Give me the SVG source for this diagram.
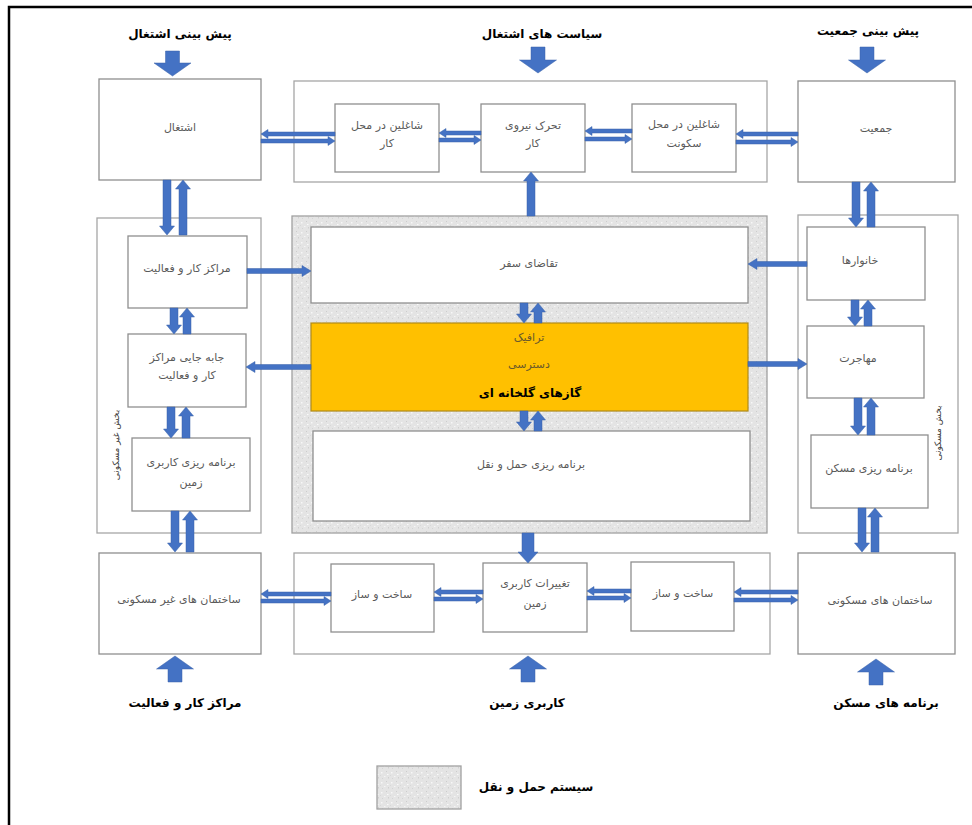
<svg xmlns="http://www.w3.org/2000/svg" width="972" height="825" viewBox="0 0 972 825">
<defs>
<pattern id="speck" width="10" height="10" patternUnits="userSpaceOnUse">
<rect width="10" height="10" fill="#e4e4e4"/>
<rect x="1" y="2" width="1.5" height="1.5" fill="#f7f7f7"/>
<rect x="6" y="1" width="1" height="1" fill="#cdcdcd"/>
<rect x="4" y="6" width="1.5" height="1" fill="#f5f5f5"/>
<rect x="8" y="7" width="1" height="1.5" fill="#d0d0d0"/>
<rect x="2" y="8" width="1" height="1" fill="#d4d4d4"/>
<rect x="7" y="4" width="1.5" height="1" fill="#fafafa"/>
<rect x="0" y="5" width="1" height="1" fill="#d8d8d8"/>
</pattern>
</defs>
<style>
.cont{fill:#fff;stroke:#a6a6a6;stroke-width:1.3}
.box{fill:#fff;stroke:#8f8f8f;stroke-width:1.3}
.trans{fill:url(#speck);stroke:#a0a0a0;stroke-width:1.3}
.orange{fill:#FFC000;stroke:#b08a1a;stroke-width:1.2}
.lbl{font-family:"DejaVu Sans","Noto Sans",sans-serif;font-size:11px;fill:#595959;text-anchor:middle}
.side{font-family:"DejaVu Sans","Noto Sans",sans-serif;font-size:9px;fill:#404040;text-anchor:middle}
.head{font-family:"DejaVu Sans","Noto Sans",sans-serif;font-size:12px;font-weight:bold;fill:#000;text-anchor:middle}
.otxt{font-family:"DejaVu Sans","Noto Sans",sans-serif;font-size:11px;fill:#6b5a2a;text-anchor:middle}
.arr{fill:#4472C4;stroke:#3a62a8;stroke-width:0.5}
</style>
<rect width="972" height="825" fill="#fff"/>
<path d="M9,825 V7 H972" fill="none" stroke="#000" stroke-width="2.5"/>

<g id="headers">
<text class="head" x="180" y="38">پیش بینی اشتغال</text>
<text class="head" x="542" y="38">سیاست های اشتغال</text>
<text class="head" x="868" y="35">پیش بینی جمعیت</text>
<text class="head" x="185" y="707">مراکز کار و فعالیت</text>
<text class="head" x="527" y="707">کاربری زمین</text>
<text class="head" x="886" y="707">برنامه های مسکن</text>
</g>

<g id="containers">
<rect class="cont" x="294" y="81" width="473" height="101"/>
<rect class="cont" x="97" y="218" width="164" height="315"/>
<rect class="cont" x="798" y="215" width="160" height="318"/>
<rect class="cont" x="294" y="553" width="476" height="101"/>
<rect class="trans" x="292" y="216" width="475" height="317"/>
<text class="side" transform="translate(119,445) rotate(-90)">بخش غیر مسکونی</text>
<text class="side" transform="translate(941,433) rotate(-90)">بخش مسکونی</text>
</g>

<g id="n-eshteghal"><rect class="box" x="99" y="79" width="162" height="101"/><text class="lbl" x="180" y="131">اشتغال</text></g>
<g id="n-shaghelin-kar"><rect class="box" x="335" y="104" width="104" height="68"/><text class="lbl" x="387" y="129">شاغلین در محل</text><text class="lbl" x="387" y="147">کار</text></g>
<g id="n-tahrok"><rect class="box" x="481" y="104" width="104" height="68"/><text class="lbl" x="533" y="129">تحرک نیروی</text><text class="lbl" x="533" y="147">کار</text></g>
<g id="n-shaghelin-sokunat"><rect class="box" x="632" y="104" width="104" height="68"/><text class="lbl" x="684" y="128">شاغلین در محل</text><text class="lbl" x="684" y="147">سکونت</text></g>
<g id="n-jamiat"><rect class="box" x="798" y="81" width="157" height="101"/><text class="lbl" x="876" y="132">جمعیت</text></g>

<g id="n-marakez"><rect class="box" x="128" y="236" width="119" height="72"/><text class="lbl" x="187" y="272">مراکز کار و فعالیت</text></g>
<g id="n-jabejaei"><rect class="box" x="128" y="334" width="118" height="73"/><text class="lbl" x="187" y="361">جابه جایی مراکز</text><text class="lbl" x="187" y="379">کار و فعالیت</text></g>
<g id="n-barname-karbari"><rect class="box" x="132" y="438" width="118" height="73"/><text class="lbl" x="191" y="466">برنامه ریزی کاربری</text><text class="lbl" x="191" y="486">زمین</text></g>

<g id="n-taghaza"><rect class="box" x="311" y="227" width="437" height="76"/><text class="lbl" x="529" y="267">تقاضای سفر</text></g>
<g id="n-traffic"><rect class="orange" x="311" y="323" width="437" height="88"/><text class="otxt" x="529" y="341">ترافیک</text><text class="otxt" x="529" y="368">دسترسی</text><text class="head" x="530" y="397" font-size="14.5">گازهای گلخانه ای</text></g>
<g id="n-barname-haml"><rect class="box" x="313" y="431" width="437" height="90"/><text class="lbl" x="531" y="468">برنامه ریزی حمل و نقل</text></g>

<g id="n-khanevar"><rect class="box" x="807" y="227" width="118" height="73"/><text class="lbl" x="860" y="264">خانوارها</text></g>
<g id="n-mohajerat"><rect class="box" x="807" y="326" width="117" height="72"/><text class="lbl" x="858" y="362">مهاجرت</text></g>
<g id="n-barname-maskan"><rect class="box" x="811" y="435" width="117" height="73"/><text class="lbl" x="869" y="472">برنامه ریزی مسکن</text></g>

<g id="n-sakhteman-gheir"><rect class="box" x="99" y="553" width="162" height="101"/><text class="lbl" x="179" y="603">ساختمان های غیر مسکونی</text></g>
<g id="n-sakht1"><rect class="box" x="331" y="564" width="103" height="68"/><text class="lbl" x="382" y="598">ساخت و ساز</text></g>
<g id="n-taghirat"><rect class="box" x="483" y="563" width="104" height="69"/><text class="lbl" x="535" y="587">تغییرات کاربری</text><text class="lbl" x="535" y="607">زمین</text></g>
<g id="n-sakht2"><rect class="box" x="631" y="562" width="103" height="69"/><text class="lbl" x="683" y="597">ساخت و ساز</text></g>
<g id="n-sakhteman-maskuni"><rect class="box" x="798" y="553" width="157" height="101"/><text class="lbl" x="880" y="604">ساختمان های مسکونی</text></g>

<g id="legend">
<rect class="trans" x="377" y="766" width="84" height="43"/>
<text class="head" x="536" y="791">سیستم حمل و نقل</text>
</g>

<g id="connectors">
<path class="arr" d="M165.5,51 H179.5 V63 H191 L172.5,76 L154,63 H165.5 Z"/>
<path class="arr" d="M531,47 H545 V60 H556.5 L538,73 L519.5,60 H531 Z"/>
<path class="arr" d="M860,47 H874 V60 H885.5 L867,73 L848.5,60 H860 Z"/>
<path class="arr" d="M168,682 H182 V669 H193.5 L175,656 L156.5,669 H168 Z"/>
<path class="arr" d="M521,682 H535 V669 H546.5 L528,656 L509.5,669 H521 Z"/>
<path class="arr" d="M869,685 H883 V672 H894.5 L876,659 L857.5,672 H869 Z"/>

<path class="arr" d="M335,132 H268 V129.5 L261,134 L268,138.5 V136 H335 Z"/>
<path class="arr" d="M261,139 H328 V136.5 L335,141 L328,145.5 V143 H261 Z"/>
<path class="arr" d="M481,131 H446 V128.5 L439,133 L446,137.5 V135 H481 Z"/>
<path class="arr" d="M439,138 H474 V135.5 L481,140 L474,144.5 V142 H439 Z"/>
<path class="arr" d="M632,129 H592 V126.5 L585,131 L592,135.5 V133 H632 Z"/>
<path class="arr" d="M585,137 H625 V134.5 L632,139 L625,143.5 V141 H585 Z"/>
<path class="arr" d="M798,132 H743 V129.5 L736,134 L743,138.5 V136 H798 Z"/>
<path class="arr" d="M736,140 H791 V137.5 L798,142 L791,146.5 V144 H736 Z"/>
<path class="arr" d="M331,592 H268 V589.5 L261,594 L268,598.5 V596 H331 Z"/>
<path class="arr" d="M261,599 H324 V596.5 L331,601 L324,605.5 V603 H261 Z"/>
<path class="arr" d="M483,590 H441 V587.5 L434,592 L441,596.5 V594 H483 Z"/>
<path class="arr" d="M434,597 H476 V594.5 L483,599 L476,603.5 V601 H434 Z"/>
<path class="arr" d="M631,589 H594 V586.5 L587,591 L594,595.5 V593 H631 Z"/>
<path class="arr" d="M587,596 H624 V593.5 L631,598 L624,602.5 V600 H587 Z"/>
<path class="arr" d="M798,590 H741 V587.5 L734,592 L741,596.5 V594 H798 Z"/>
<path class="arr" d="M734,598 H791 V595.5 L798,600 L791,604.5 V602 H734 Z"/>

<path class="arr" d="M163,180 H171 V226 H174.5 L167,235 L159.5,226 H163 Z"/>
<path class="arr" d="M179,235 H187 V189 H190.5 L183,180 L175.5,189 H179 Z"/>
<path class="arr" d="M170,308 H178 V325 H181.5 L174,334 L166.5,325 H170 Z"/>
<path class="arr" d="M183,334 H191 V317 H194.5 L187,308 L179.5,317 H183 Z"/>
<path class="arr" d="M167,407 H175 V429 H178.5 L171,438 L163.5,429 H167 Z"/>
<path class="arr" d="M182,438 H190 V416 H193.5 L186,407 L178.5,416 H182 Z"/>
<path class="arr" d="M171,511 H179 V543 H182.5 L175,552 L167.5,543 H171 Z"/>
<path class="arr" d="M186,552 H194 V520 H197.5 L190,511 L182.5,520 H186 Z"/>

<path class="arr" d="M852,182 H860 V218 H863.5 L856,227 L848.5,218 H852 Z"/>
<path class="arr" d="M867,227 H875 V191 H878.5 L871,182 L863.5,191 H867 Z"/>
<path class="arr" d="M851,300 H859 V317 H862.5 L855,326 L847.5,317 H851 Z"/>
<path class="arr" d="M864,326 H872 V309 H875.5 L868,300 L860.5,309 H864 Z"/>
<path class="arr" d="M854,398 H862 V426 H865.5 L858,435 L850.5,426 H854 Z"/>
<path class="arr" d="M867,435 H875 V407 H878.5 L871,398 L863.5,407 H867 Z"/>
<path class="arr" d="M858,508 H866 V543 H869.5 L862,552 L854.5,543 H858 Z"/>
<path class="arr" d="M871,552 H879 V517 H882.5 L875,508 L867.5,517 H871 Z"/>

<path class="arr" d="M520,303 H528 V314 H531.5 L524,323 L516.5,314 H520 Z"/>
<path class="arr" d="M534,323 H542 V312 H545.5 L538,303 L530.5,312 H534 Z"/>
<path class="arr" d="M520,411 H528 V422 H531.5 L524,431 L516.5,422 H520 Z"/>
<path class="arr" d="M534,431 H542 V420 H545.5 L538,411 L530.5,420 H534 Z"/>
<path class="arr" d="M527,216 H535 V181 H538.5 L531,172 L523.5,181 H527 Z"/>
<path class="arr" d="M522,533 H534 V552 H538 L528,563 L518,552 H522 Z"/>

<path class="arr" d="M247,268.5 H302 V265.5 L311,271 L302,276.5 V273.5 H247 Z"/>
<path class="arr" d="M311,364.5 H255 V361.5 L246,367 L255,372.5 V369.5 H311 Z"/>
<path class="arr" d="M807,261.5 H757 V258.5 L748,264 L757,269.5 V266.5 H807 Z"/>
<path class="arr" d="M748,361.5 H798 V358.5 L807,364 L798,369.5 V366.5 H748 Z"/>
</g>
</svg>
